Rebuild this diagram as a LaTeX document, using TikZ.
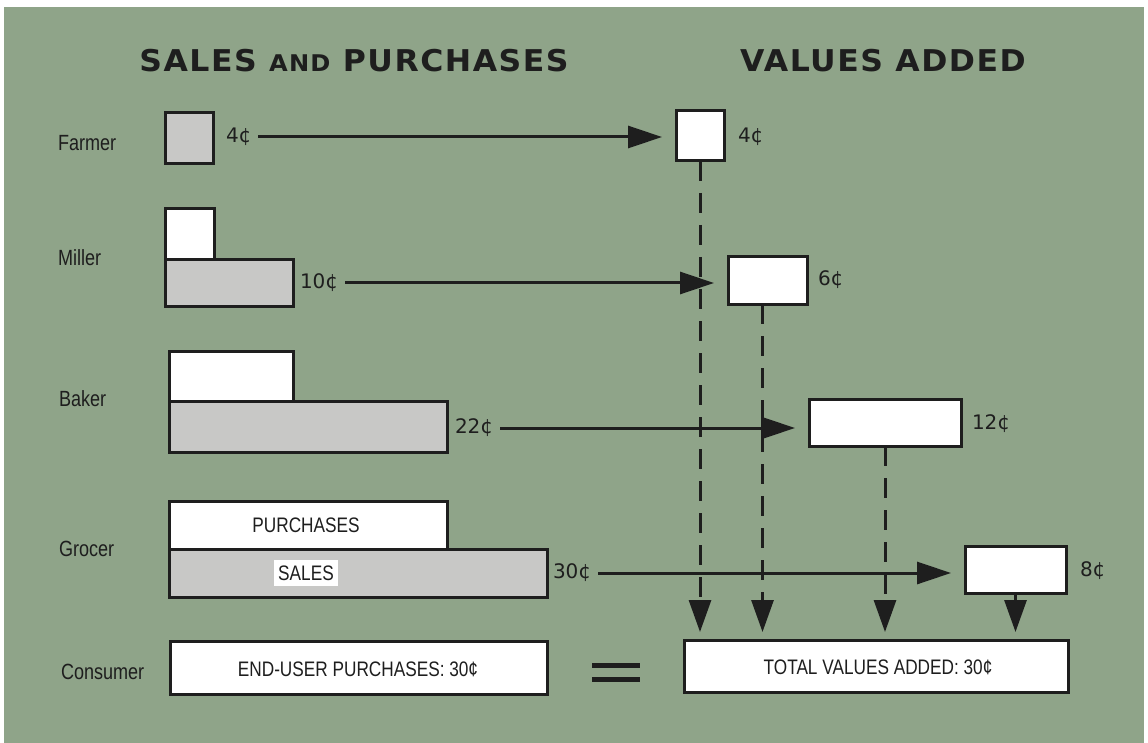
\documentclass[tikz,border=0pt]{standalone}
\usepackage{fontspec}
\setmainfont{Liberation Sans}
\newfontfamily\condfont[FakeStretch=0.82]{Liberation Sans}
\newfontfamily\headfont[FakeStretch=1.05,LetterSpace=5]{DejaVu Sans Bold}
\newfontfamily\centfont{DejaVu Sans}
\usetikzlibrary{arrows.meta}
\definecolor{panel}{RGB}{143,164,137}
\definecolor{ink}{RGB}{30,30,30}
\definecolor{stipple}{RGB}{200,200,198}

\begin{document}
\begin{tikzpicture}[x=1pt,y=-1pt,
  every node/.style={inner sep=0pt, outer sep=0pt},
  bar/.style={draw=ink, line width=3pt, fill=white, rectangle},
  sold/.style={bar, fill=stipple},
  rowlabel/.style={anchor=west, text=ink, font=\condfont\fontsize{22}{26}\selectfont},
  boxtext/.style={text=ink, font=\condfont\fontsize{21}{25}\selectfont},
  cents/.style={anchor=west, text=ink, font=\centfont\fontsize{20}{24}\selectfont},
  heading/.style={anchor=base, text=ink, font=\headfont\fontsize{30}{36}\selectfont},
  flow/.style={draw=ink, line width=3pt, -{Triangle[length=34pt,width=22pt]}, shorten >=14pt, shorten <=7pt},
  drop/.style={draw=ink, line width=3pt, -{Triangle[length=32pt,width=22pt]}, shorten >=8pt},
  dashdrop/.style={drop, dash pattern=on 20pt off 12pt},
]
% page and coloured panel
\fill[white] (0,0) rectangle (1148,743);
\useasboundingbox (0,0) rectangle (1148,743);
\fill[panel] (4,7) rectangle (1144,743);

% headings
\node[heading] (hsp) at (354,72) {SALES {\fontsize{23}{28}\selectfont AND} PURCHASES};
\node[heading] (hva) at (883,72) {VALUES ADDED};

% row labels
\node[rowlabel] (lf) at (58,143) {Farmer};
\node[rowlabel] (lm) at (58,258) {Miller};
\node[rowlabel] (lb) at (59,399) {Baker};
\node[rowlabel] (lg) at (59,549) {Grocer};
\node[rowlabel] (lc) at (61,672) {Consumer};

% value-added boxes
\node[bar, minimum width=48pt, minimum height=50pt] (fv) at (700,136) {};
\node[bar, minimum width=79pt, minimum height=47pt] (mv) at (767.5,280.5) {};
\node[bar, minimum width=152pt, minimum height=47pt] (bv) at (885,422.5) {};
\node[bar, minimum width=101pt, minimum height=47pt] (gv) at (1015.5,569.5) {};
\node[bar, minimum width=384pt, minimum height=52pt] (tb) at (876,666) {};
\node[boxtext] (tbt) at (878,667) {TOTAL VALUES ADDED: 30¢};

% drops into the total
\draw[dashdrop] (fv.south) -- (fv.south |- tb.north);
\draw[dashdrop] ([xshift=-5pt]mv.south) -- ([xshift=-5pt]mv.south |- tb.north);
\draw[dashdrop] (bv.south) -- (bv.south |- tb.north);
\draw[drop] (gv.south) -- (gv.south |- tb.north);

% sales and purchases bars
\node[sold, minimum width=48pt, minimum height=51pt] (fs) at (189,138.5) {};
\node[bar, minimum width=49pt, minimum height=51pt] (mp) at (189.5,234.5) {};
\node[sold, minimum width=128pt, minimum height=46pt] (ms) at (229,283) {};
\node[bar, minimum width=124pt, minimum height=50pt] (bp) at (231,376) {};
\node[sold, minimum width=278pt, minimum height=51pt] (bs) at (308,426.5) {};
\node[bar, minimum width=278pt, minimum height=48pt] (gp) at (308,525) {};
\node[sold, minimum width=378pt, minimum height=48pt] (gs) at (358,573) {};
\node[boxtext] (gpt) at (306,525) {PURCHASES};
\node[boxtext, fill=white, inner xsep=4pt, minimum height=26pt] (gst) at (306,573) {SALES};
\node[bar, minimum width=377pt, minimum height=53pt] (cb) at (358.5,667.5) {};
\node[boxtext] (cbt) at (358,669) {END-USER PURCHASES: 30¢};

% amounts
\node[cents] (fc) at (226,137) {4¢};
\node[cents] (mc) at (300,283) {10¢};
\node[cents] (bc) at (455,428) {22¢};
\node[cents] (gc) at (553,573) {30¢};
\node[cents] (fvc) at (738,137) {4¢};
\node[cents] (mvc) at (818,280) {6¢};
\node[cents] (bvc) at (972,424) {12¢};
\node[cents] (gvc) at (1080,571) {8¢};

% sales carried over to value added
\draw[flow] (fc.east) -- (fc.east -| fv.west);
\draw[flow] (mc.east) -- (mc.east -| mv.west);
\draw[flow] (bc.east) -- (bc.east -| bv.west);
\draw[flow] (gc.east) -- (gc.east -| gv.west);

% equals sign
\draw[ink, line width=5pt] (592,665) -- (640,665) (592,679) -- (640,679);
\end{tikzpicture}
\end{document}
